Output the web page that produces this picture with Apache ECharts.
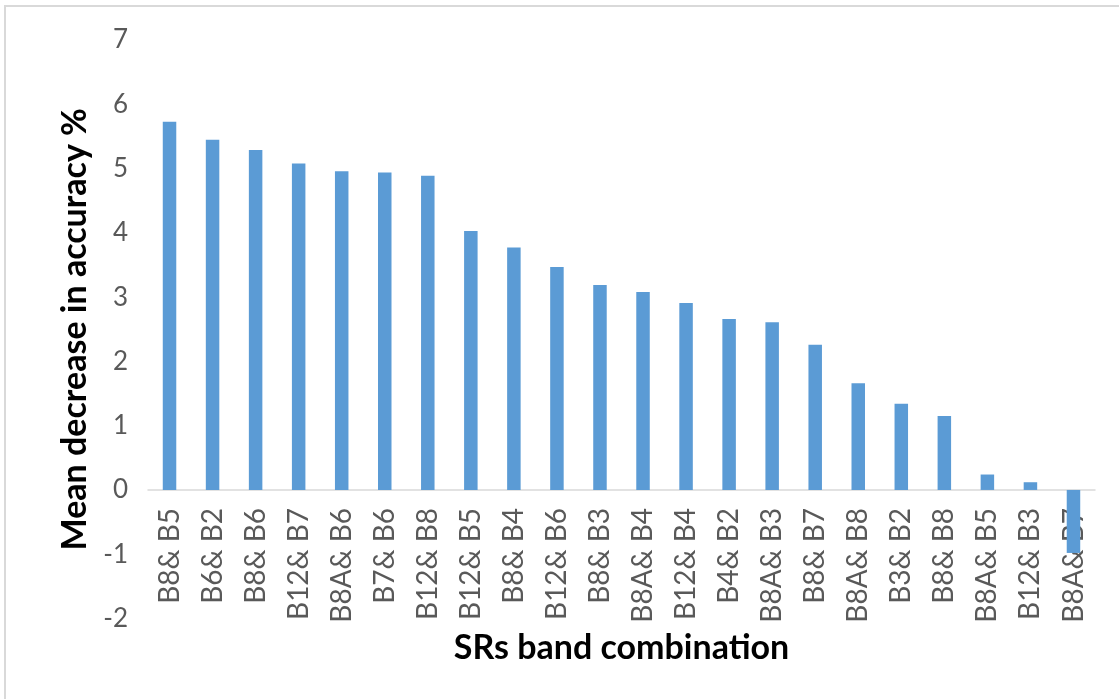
<!DOCTYPE html>
<html>
<head>
<meta charset="utf-8">
<style>
  html, body { margin: 0; padding: 0; background: #ffffff; }
  #frame {
    position: absolute; left: 4px; top: 5px; width: 1130px; height: 710px;
    border: 2px solid #d9d9d9; box-sizing: border-box;
  }
  #chart { position: absolute; left: 0; top: 0; width: 1119px; height: 699px; }
</style>
<script src="https://cdn.jsdelivr.net/npm/echarts@6/dist/echarts.min.js"></script>
</head>
<body>
<div id="frame"></div>
<div id="chart"></div>
<script>
// Band pairs, ordered by how much accuracy drops when the pair is removed
const categories = [
  'B8& B5', 'B6& B2', 'B8& B6', 'B12& B7', 'B8A& B6', 'B7& B6', 'B12& B8',
  'B12& B5', 'B8& B4', 'B12& B6', 'B8& B3', 'B8A& B4', 'B12& B4', 'B4& B2',
  'B8A& B3', 'B8& B7', 'B8A& B8', 'B3& B2', 'B8& B8', 'B8A& B5', 'B12& B3', 'B8A& B7'
];
const meanDecrease = [
  5.73, 5.45, 5.29, 5.08, 4.96, 4.94, 4.89,
  4.03, 3.77, 3.47, 3.19, 3.08, 2.91, 2.66,
  2.61, 2.26, 1.66, 1.34, 1.15, 0.24, 0.12, -0.98
];
const yTicks = { min: -2, max: 7, interval: 1 };

const fontFamily = 'Lato, "Open Sans", sans-serif';
const gridTop = 40, gridBottom = 80.5, chartHeight = 699;
const plotHeight = chartHeight - gridTop - gridBottom;
// distance from the bottom of the plot up to the zero line, where the category axis sits
const zeroLift = plotHeight * (0 - yTicks.min) / (yTicks.max - yTicks.min);

const chart = echarts.init(document.getElementById('chart'), null, { renderer: 'canvas' });
chart.setOption({
  animation: false,
  backgroundColor: 'transparent',
  grid: { left: 148, right: 24, top: gridTop, bottom: gridBottom, outerBoundsMode: 'none', containLabel: false },
  xAxis: {
    type: 'category',
    data: categories,
    position: 'bottom',
    offset: -zeroLift,
    axisLine: { onZero: false, lineStyle: { color: '#d9d9d9', width: 1.5 } },
    axisTick: { show: false },
    axisLabel: {
      rotate: 90, margin: 18, interval: 0,
      color: '#595959', fontSize: 28, fontFamily: fontFamily
    },
    name: 'SRs band combination',
    nameLocation: 'middle',
    nameGap: 139,
    nameTextStyle: { color: '#000000', fontSize: 34, fontWeight: 'bold', fontFamily: fontFamily }
  },
  yAxis: {
    type: 'value',
    min: yTicks.min, max: yTicks.max, interval: yTicks.interval,
    axisLine: { show: false },
    axisTick: { show: false },
    splitLine: { show: false },
    axisLabel: { margin: 20, color: '#595959', fontSize: 26, fontFamily: fontFamily },
    name: 'Mean decrease in accuracy %',
    nameLocation: 'middle',
    nameGap: 40,
    nameTextStyle: { color: '#000000', fontSize: 34, fontWeight: 'bold', fontFamily: fontFamily }
  },
  series: [{
    type: 'bar',
    data: meanDecrease,
    barWidth: 13.5,
    itemStyle: { color: '#5b9bd5' }
  }]
});
</script>
</body>
</html>
